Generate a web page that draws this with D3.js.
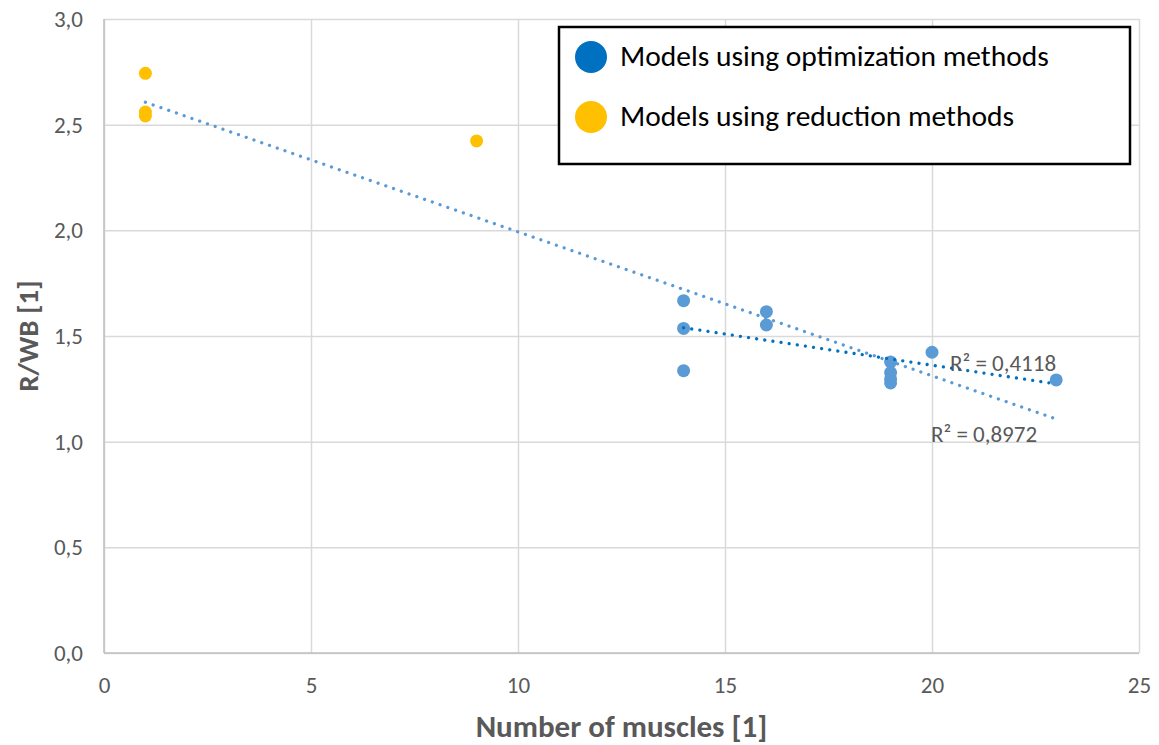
<!DOCTYPE html>
<html>
<head>
<meta charset="utf-8">
<script src="https://cdn.jsdelivr.net/npm/d3@7"></script>
<style>
  html, body { margin: 0; padding: 0; background: #fff; }
  svg { display: block; font-family: Carlito, Lato, "Open Sans", sans-serif; }
</style>
</head>
<body>
<svg id="chart" width="1159" height="745"></svg>
<script>
// Muscle models: number of muscles vs. R/WB
const optimizationX = [14, 14, 14, 16, 16, 19, 19, 19, 19, 20, 23];
const optimizationY = [1.667, 1.536, 1.336, 1.615, 1.552, 1.377, 1.327, 1.297, 1.278, 1.423, 1.292];
const reductionX = [1, 1, 1, 9];
const reductionY = [2.743, 2.560, 2.541, 2.423];

// Linear trendlines (all models, optimization models only)
const trendAllX = [1, 23];
const trendAllY = [2.606, 1.107];
const trendOptX = [14, 23];
const trendOptY = [1.539, 1.273];
const trendLabels = ["R² = 0,8972", "R² = 0,4118"];

const xTicks = [0, 5, 10, 15, 20, 25];
const yTicks = [0, 0.5, 1, 1.5, 2, 2.5, 3];
const seriesNames = ["Models using optimization methods", "Models using reduction methods"];

const svg = d3.select("#chart");
const x = d3.scaleLinear().domain([0, 25]).range([104, 1139]);
const y = d3.scaleLinear().domain([0, 3]).range([653, 19]);
const fmt = d => d3.format(".1f")(d).replace(".", ",");

const grey = "#595959";
const gridColor = "#d9d9d9";
const blue = "#5b9bd5";
const darkBlue = "#0070c0";
const gold = "#ffc000";

// gridlines
svg.append("g")
  .attr("transform", `translate(0,${y(0)})`)
  .call(d3.axisBottom(x).tickValues(xTicks).tickSize(-(y(0) - y(3))).tickFormat(""))
  .call(g => g.select(".domain").remove())
  .call(g => g.selectAll("line").attr("stroke", gridColor).attr("stroke-width", 1.5));
svg.append("g")
  .attr("transform", `translate(${x(0)},0)`)
  .call(d3.axisLeft(y).tickValues(yTicks).tickSize(-(x(25) - x(0))).tickFormat(""))
  .call(g => g.select(".domain").remove())
  .call(g => g.selectAll("line").attr("stroke", gridColor).attr("stroke-width", 1.5));

// axis lines
svg.append("line").attr("x1", x(0)).attr("x2", x(0)).attr("y1", y(3)).attr("y2", y(0))
  .attr("stroke", "#bfbfbf").attr("stroke-width", 1.5);
svg.append("line").attr("x1", x(0)).attr("x2", x(25)).attr("y1", y(0)).attr("y2", y(0))
  .attr("stroke", "#bfbfbf").attr("stroke-width", 1.5);

// tick labels
svg.append("g")
  .attr("transform", `translate(0,${y(0)})`)
  .call(d3.axisBottom(x).tickValues(xTicks).tickSize(0).tickPadding(24).tickFormat(d3.format("d")))
  .call(g => g.select(".domain").remove())
  .call(g => g.selectAll("text").attr("fill", grey).attr("font-size", 23).attr("font-family", "Carlito, Lato, sans-serif"));
svg.append("g")
  .attr("transform", `translate(${x(0) - 21},0)`)
  .call(d3.axisLeft(y).tickValues(yTicks).tickSize(0).tickPadding(0).tickFormat(fmt))
  .call(g => g.select(".domain").remove())
  .call(g => g.selectAll("text").attr("fill", grey).attr("font-size", 23).attr("font-family", "Carlito, Lato, sans-serif"));

// axis titles
svg.append("text")
  .attr("x", (x(0) + x(25)) / 2).attr("y", 737)
  .attr("text-anchor", "middle").attr("fill", grey)
  .attr("font-size", 31).attr("font-weight", "bold")
  .text("Number of muscles [1]");
svg.append("text")
  .attr("transform", `translate(38,${(y(0) + y(3)) / 2}) rotate(-90)`)
  .attr("text-anchor", "middle").attr("fill", grey)
  .attr("font-size", 29).attr("font-weight", "bold")
  .text("R/WB [1]");

// points
svg.append("g").selectAll("circle")
  .data(optimizationX.map((d, i) => [d, optimizationY[i]]))
  .join("circle")
  .attr("cx", d => x(d[0])).attr("cy", d => y(d[1])).attr("r", 6.5)
  .attr("fill", blue);
svg.append("g").selectAll("circle")
  .data(reductionX.map((d, i) => [d, reductionY[i]]))
  .join("circle")
  .attr("cx", d => x(d[0])).attr("cy", d => y(d[1])).attr("r", 6.5)
  .attr("fill", gold);

// trendlines
const line = d3.line().x(d => x(d[0])).y(d => y(d[1]));
svg.append("path")
  .datum(trendAllX.map((d, i) => [d, trendAllY[i]]))
  .attr("d", line).attr("fill", "none")
  .attr("stroke", blue).attr("stroke-width", 3.3)
  .attr("stroke-linecap", "round").attr("stroke-dasharray", "0.01 8.2");
svg.append("path")
  .datum(trendOptX.map((d, i) => [d, trendOptY[i]]))
  .attr("d", line).attr("fill", "none")
  .attr("stroke", darkBlue).attr("stroke-width", 3.3)
  .attr("stroke-linecap", "round").attr("stroke-dasharray", "0.01 8.2");

// R² labels
svg.append("text").attr("x", 931).attr("y", 442)
  .attr("fill", grey).attr("font-size", 23).text(trendLabels[0]);
svg.append("text").attr("x", 950).attr("y", 371)
  .attr("fill", grey).attr("font-size", 23).text(trendLabels[1]);

// legend
const legend = svg.append("g");
legend.append("rect")
  .attr("x", 559).attr("y", 27).attr("width", 571).attr("height", 137)
  .attr("fill", "#fff").attr("stroke", "#000").attr("stroke-width", 2.5);
const legendColors = [darkBlue, gold];
seriesNames.forEach((name, i) => {
  legend.append("circle")
    .attr("cx", 591).attr("cy", 57 + i * 60).attr("r", 16)
    .attr("fill", legendColors[i]);
  legend.append("text")
    .attr("x", 620).attr("y", 66 + i * 60)
    .attr("fill", "#000").attr("font-size", 29.5)
    .text(name);
});
</script>
</body>
</html>
